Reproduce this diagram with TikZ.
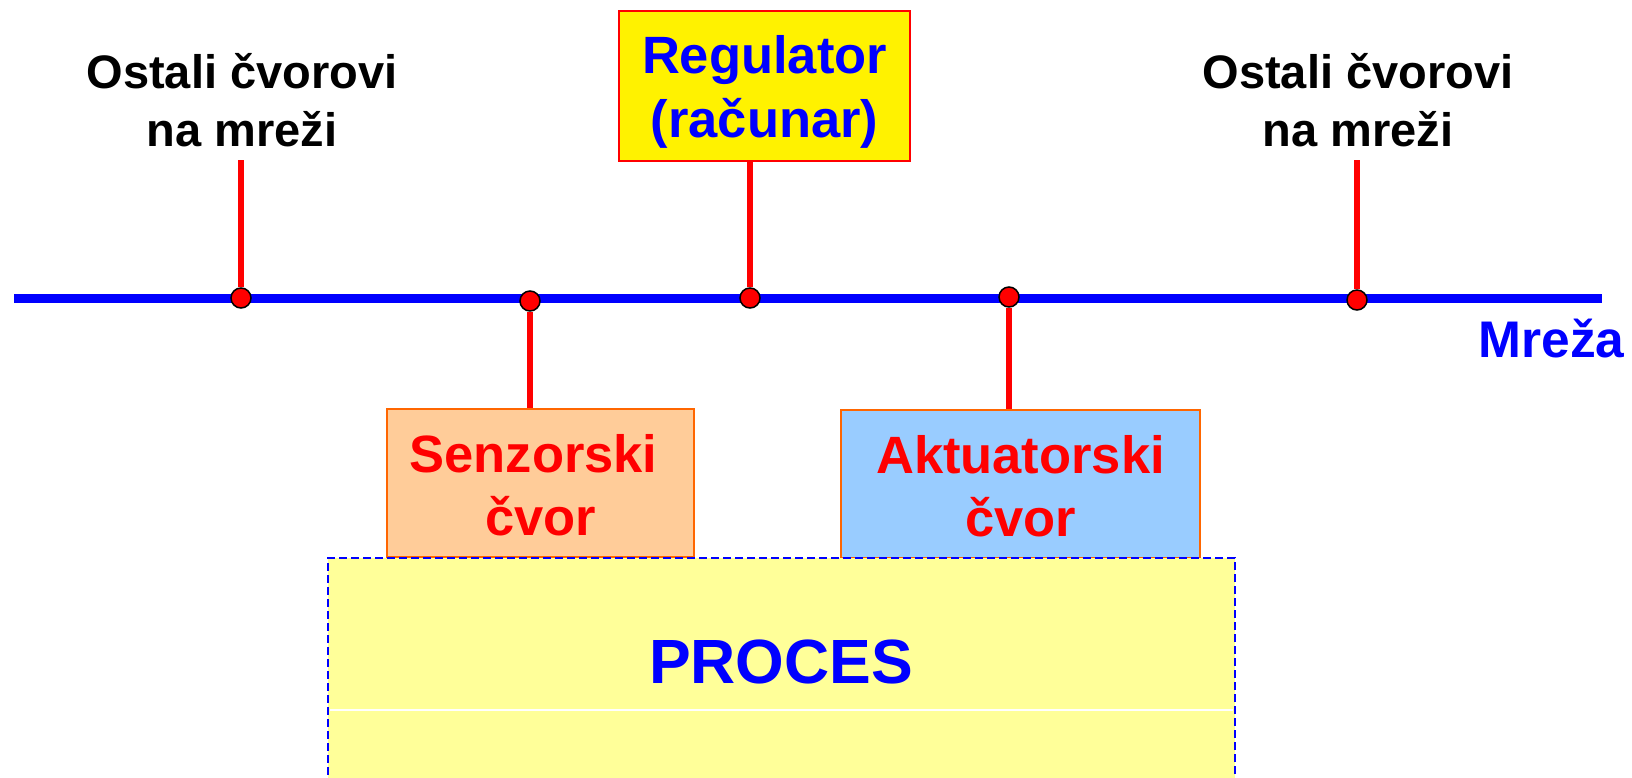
\documentclass[tikz,border=0pt]{standalone}
\usepackage{fontspec}
\setmainfont{Liberation Sans}
\definecolor{netblue}{HTML}{0000FF}
\definecolor{boxorange}{HTML}{FF6600}
\definecolor{sensfill}{HTML}{FFCC99}
\definecolor{actfill}{HTML}{99CCFF}
\definecolor{procfill}{HTML}{FFFF99}

\tikzset{
  busdot/.style={circle, fill=red, draw=black, line width=1.5pt, minimum size=20pt, inner sep=0pt},
  stem/.style={red, line width=6pt},
  nodebox/.style={draw=boxorange, line width=2pt, inner sep=0pt, align=center, anchor=base, text=red,
    font=\bfseries\fontsize{52.5}{63}\selectfont, text height=126pt, text depth=22pt},
  others/.style={align=center, anchor=base, font=\bfseries\fontsize{47}{58}\selectfont}
}

\begin{document}
\begin{tikzpicture}[x=1pt, y=-1pt]

\path [use as bounding box, clip] (0,0) rectangle (1632,777);

%% Mreza
\coordinate (busL) at (14,298);
\coordinate (busR) at (1602,298);
\draw [netblue, line width=9pt] (busL) -- (busR);
\node [anchor=base east, text=netblue, font=\bfseries\fontsize{51.5}{60}\selectfont] (mreza) at (1628,357) {Mreža};

%% Regulator
\node [draw=red, fill=yellow, line width=2pt, inner sep=0pt, align=center, anchor=base, text=netblue,
  font=\bfseries\fontsize{52.5}{64}\selectfont, minimum width=291pt,
  text height=126pt, text depth=24pt] (reg) at (764.5,137) {Regulator\\(računar)};

%% Ostali cvorovi
\node [others] (ostaliL) at (242,146) {Ostali čvorovi\\na mreži};
\node [others] (ostaliD) at (1358,146) {Ostali čvorovi\\na mreži};
\coordinate (topL) at (241,160);
\coordinate (topD) at (1357,160);

%% Senzor, aktuator
\node [nodebox, fill=sensfill, minimum width=307pt] (sens) at (540.5,535) {Senzorski\kern14pt\\čvor};
\node [nodebox, fill=actfill, minimum width=359pt] (akt) at (1020.5,536) {Aktuatorski\\čvor};

%% Proces
\node [draw=netblue, fill=procfill, line width=2pt, dash pattern=on 8pt off 4pt, inner sep=0pt,
  anchor=base, minimum width=907pt, text height=125pt, text depth=120pt, text=netblue,
  font=\bfseries\fontsize{62.5}{70}\selectfont] (proc) at (781,683) {PROCES};
\draw [white, line width=1.2pt] (330,710) -- (1233,710);

%% Tacke na mrezi
\node [busdot] (dotL) at (241,298) {};
\node [busdot] (dotS) at (530,301) {};
\node [busdot] (dotR) at (750,298) {};
\node [busdot] (dotA) at (1009,297) {};
\node [busdot] (dotD) at (1357,300) {};

\draw [stem] (topL) -- (dotL);
\draw [stem] (topD) -- (dotD);
\draw [stem] (dotR) -- (dotR |- reg.south);
\draw [stem] (dotS) -- (dotS |- sens.north);
\draw [stem] (dotA) -- (dotA |- akt.north);

\end{tikzpicture}
\end{document}
